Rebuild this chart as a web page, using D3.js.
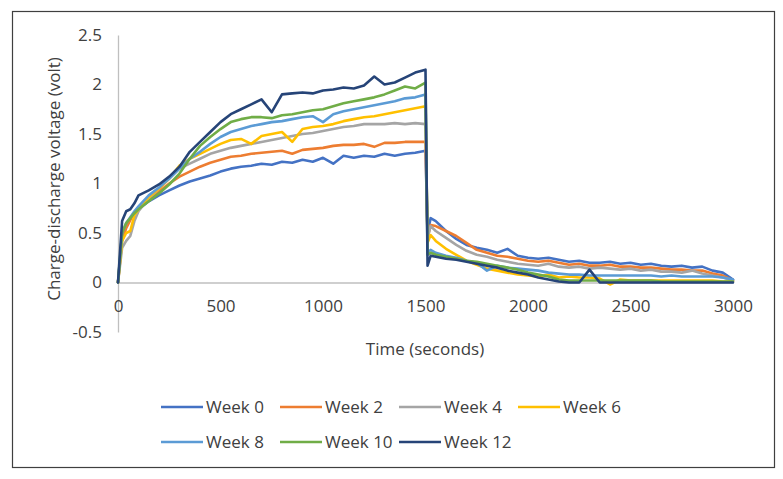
<!DOCTYPE html>
<html>
<head>
<meta charset="utf-8">
<script src="https://cdn.jsdelivr.net/npm/d3@7"></script>
<style>
  html, body { margin: 0; padding: 0; background: #fff; }
  svg { display: block; }
  text { font-family: "Open Sans", Lato, sans-serif; }
</style>
</head>
<body>
<svg id="chart" width="783" height="479"></svg>
<script>
// ---- data ----
const seriesNames = ["Week 0", "Week 2", "Week 4", "Week 6", "Week 8", "Week 10", "Week 12"];
const seriesColors = ["#4472C4", "#ED7D31", "#A5A5A5", "#FFC000", "#5B9BD5", "#70AD47", "#264478"];

const timeSeconds = [0, 20, 40, 60, 80, 100,
  150, 200, 250, 300, 350, 400, 450, 500, 550, 600, 650, 700, 750, 800, 850, 900, 950, 1000,
  1050, 1100, 1150, 1200, 1250, 1300, 1350, 1400, 1450, 1500,
  1510, 1525,
  1550, 1600, 1650, 1700, 1750, 1800, 1850, 1900, 1950, 2000, 2050, 2100, 2150, 2200, 2250,
  2300, 2350, 2400, 2450, 2500, 2550, 2600, 2650, 2700, 2750, 2800, 2850, 2900, 2950, 3000];

const week0 = [0, 0.45, 0.58, 0.65, 0.70, 0.74,
  0.82, 0.88, 0.93, 0.98, 1.02, 1.05, 1.08, 1.12, 1.15, 1.17, 1.18, 1.20, 1.19, 1.22, 1.21, 1.24, 1.22, 1.26,
  1.20, 1.28, 1.26, 1.28, 1.27, 1.30, 1.28, 1.30, 1.31, 1.33,
  0.50, 0.65,
  0.62, 0.52, 0.44, 0.38, 0.35, 0.33, 0.30, 0.34, 0.27, 0.25, 0.24, 0.25, 0.23, 0.21, 0.22,
  0.20, 0.20, 0.21, 0.19, 0.20, 0.18, 0.19, 0.17, 0.16, 0.17, 0.15, 0.16, 0.12, 0.10, 0.03];

const week2 = [0, 0.42, 0.55, 0.63, 0.70, 0.75,
  0.84, 0.92, 1.00, 1.07, 1.12, 1.17, 1.21, 1.24, 1.27, 1.28, 1.30, 1.31, 1.32, 1.33, 1.30, 1.34, 1.35, 1.36,
  1.38, 1.39, 1.39, 1.40, 1.37, 1.41, 1.41, 1.42, 1.42, 1.42,
  0.45, 0.58,
  0.57, 0.52, 0.47, 0.40, 0.33, 0.30, 0.27, 0.26, 0.24, 0.22, 0.21, 0.22, 0.20, 0.18, 0.19,
  0.17, 0.17, 0.18, 0.16, 0.16, 0.15, 0.15, 0.14, 0.13, 0.13, 0.12, 0.12, 0.09, 0.07, 0.02];

const week4 = [0, 0.35, 0.42, 0.47, 0.62, 0.72,
  0.85, 0.95, 1.05, 1.15, 1.20, 1.25, 1.30, 1.33, 1.36, 1.38, 1.40, 1.42, 1.44, 1.46, 1.48, 1.50, 1.51, 1.53,
  1.55, 1.57, 1.58, 1.60, 1.60, 1.60, 1.61, 1.60, 1.61, 1.60,
  0.45, 0.57,
  0.52, 0.45, 0.38, 0.32, 0.28, 0.26, 0.23, 0.21, 0.19, 0.18, 0.17, 0.19, 0.16, 0.15, 0.16,
  0.14, 0.15, 0.14, 0.13, 0.14, 0.12, 0.13, 0.11, 0.11, 0.10, 0.12, 0.09, 0.07, 0.05, 0.02];

const week6 = [0, 0.42, 0.50, 0.52, 0.68, 0.74,
  0.86, 0.95, 1.05, 1.18, 1.25, 1.30, 1.35, 1.40, 1.44, 1.45, 1.40, 1.48, 1.50, 1.52, 1.42, 1.55, 1.57, 1.58,
  1.60, 1.63, 1.65, 1.67, 1.68, 1.70, 1.72, 1.74, 1.76, 1.78,
  0.40, 0.48,
  0.42, 0.34, 0.28, 0.22, 0.18, 0.14, 0.12, 0.10, 0.08, 0.07, 0.06, 0.08, 0.05, 0.06, 0.05,
  0.05, 0.04, -0.02, 0.03, 0.02, 0.02, 0.02, 0.02, 0.02, 0.02, 0.02, 0.02, 0.02, 0.01, 0.01];

const week8 = [0, 0.50, 0.60, 0.66, 0.72, 0.77,
  0.88, 0.96, 1.05, 1.15, 1.25, 1.32, 1.40, 1.47, 1.52, 1.55, 1.58, 1.60, 1.62, 1.63, 1.65, 1.67, 1.68, 1.62,
  1.70, 1.73, 1.75, 1.77, 1.79, 1.81, 1.83, 1.86, 1.87, 1.90,
  0.30, 0.33,
  0.30, 0.27, 0.25, 0.22, 0.20, 0.12, 0.17, 0.15, 0.14, 0.13, 0.12, 0.10, 0.09, 0.08, 0.08,
  0.07, 0.07, 0.07, 0.07, 0.07, 0.07, 0.07, 0.06, 0.07, 0.06, 0.06, 0.06, 0.06, 0.05, 0.03];

const week10 = [0, 0.50, 0.60, 0.65, 0.70, 0.74,
  0.82, 0.90, 0.99, 1.10, 1.25, 1.38, 1.47, 1.55, 1.62, 1.65, 1.67, 1.67, 1.66, 1.69, 1.70, 1.72, 1.74, 1.75,
  1.78, 1.81, 1.83, 1.85, 1.87, 1.90, 1.94, 1.98, 1.96, 2.02,
  0.28, 0.30,
  0.28, 0.26, 0.24, 0.22, 0.21, 0.19, 0.17, 0.15, 0.13, 0.10, 0.08, 0.06, 0.03, 0.02, 0.02,
  0.02, 0.02, 0.02, 0.02, 0.02, 0.02, 0.02, 0.01, 0.01, 0.01, 0.01, 0.01, 0.01, 0.01, 0.01];

const week12 = [0, 0.62, 0.72, 0.74, 0.80, 0.88,
  0.93, 0.99, 1.07, 1.17, 1.32, 1.42, 1.52, 1.62, 1.70, 1.75, 1.80, 1.85, 1.72, 1.90, 1.91, 1.92, 1.91, 1.94,
  1.95, 1.97, 1.96, 1.99, 2.08, 2.00, 2.02, 2.07, 2.12, 2.15,
  0.17, 0.27,
  0.26, 0.24, 0.23, 0.21, 0.19, 0.17, 0.15, 0.12, 0.10, 0.08, 0.05, 0.03, 0.01, 0.00, 0.00,
  0.13, 0.00, 0.00, 0.00, 0.00, 0.00, 0.00, 0.00, 0.00, 0.00, 0.00, 0.00, 0.00, 0.00, 0.00];

const seriesValues = [week0, week2, week4, week6, week8, week10, week12];

const xTickValues = [0, 500, 1000, 1500, 2000, 2500, 3000];
const yTickValues = [-0.5, 0, 0.5, 1, 1.5, 2, 2.5];
const xTitle = "Time (seconds)";
const yTitle = "Charge-discharge voltage (volt)";

// ---- drawing ----
const svg = d3.select("#chart");
const textColor = "#404040";
const axisColor = "#BFBFBF";
const fontFamily = "'Open Sans', Lato, sans-serif";

svg.append("rect")
  .attr("x", 12.5).attr("y", 11.5).attr("width", 762).attr("height", 456)
  .attr("fill", "#fff").attr("stroke", "#3f3f3f").attr("stroke-width", 1.2);

const x = d3.scaleLinear().domain([0, 3000]).range([118, 733]);
const y = d3.scaleLinear().domain([-0.5, 2.5]).range([332, 35]);

// y axis
const yAxis = svg.append("g")
  .attr("transform", `translate(${x(0)},0)`)
  .call(d3.axisLeft(y).tickValues(yTickValues).tickSize(0).tickPadding(16)
    .tickFormat(d => String(d)));
yAxis.select(".domain").attr("stroke", axisColor).attr("stroke-width", 1.3);
yAxis.selectAll("text").attr("fill", textColor).style("font-size", "17px")
  .style("font-family", fontFamily);

// x axis at y = 0
const xAxis = svg.append("g")
  .attr("transform", `translate(0,${y(0)})`)
  .call(d3.axisBottom(x).tickValues(xTickValues).tickSize(0).tickPadding(17)
    .tickFormat(d => String(d)));
xAxis.select(".domain").attr("stroke", axisColor).attr("stroke-width", 1.3);
xAxis.selectAll("text").attr("fill", textColor).style("font-size", "17px")
  .style("font-family", fontFamily);

// titles
svg.append("text")
  .attr("x", 425).attr("y", 349).attr("dy", "0.35em")
  .attr("text-anchor", "middle").attr("fill", textColor)
  .style("font-size", "17px").text(xTitle);

svg.append("text")
  .attr("transform", "translate(54,179) rotate(-90)")
  .attr("dy", "0.35em")
  .attr("text-anchor", "middle").attr("fill", textColor)
  .style("font-size", "17px").text(yTitle);

// lines
const line = d3.line()
  .x((d, i) => x(timeSeconds[i]))
  .y(d => y(d));

svg.append("g").selectAll("path")
  .data(seriesValues)
  .join("path")
  .attr("d", d => line(d))
  .attr("fill", "none")
  .attr("stroke", (d, i) => seriesColors[i])
  .attr("stroke-width", 2.6)
  .attr("stroke-linejoin", "round")
  .attr("stroke-linecap", "round");

// legend
const legendX = [161, 280, 399, 518];
const legendY = [407, 442];
const legend = svg.append("g").selectAll("g")
  .data(seriesNames)
  .join("g")
  .attr("transform", (d, i) => `translate(${legendX[i % 4]},${legendY[Math.floor(i / 4)]})`);
legend.append("line")
  .attr("x1", 0).attr("x2", 42).attr("y1", 0).attr("y2", 0)
  .attr("stroke", (d, i) => seriesColors[i]).attr("stroke-width", 2.6);
legend.append("text")
  .attr("x", 45).attr("dy", "0.35em").attr("fill", textColor)
  .style("font-size", "17px").text(d => d);
</script>
</body>
</html>
